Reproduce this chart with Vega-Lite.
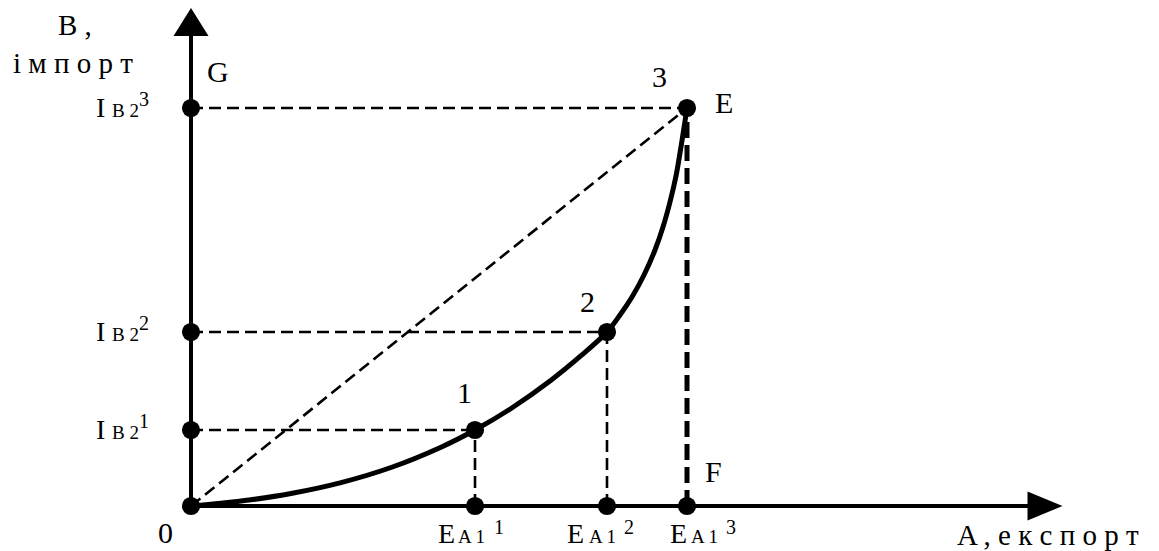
{
  "$schema": "https://vega.github.io/schema/vega-lite/v6.json",
  "width": 1159,
  "height": 551,
  "autosize": {"type": "fit", "contains": "padding"},
  "padding": 0,
  "background": "white",
  "config": {"view": {"stroke": null}, "text": {"font": "Liberation Serif", "color": "black"}},
  "datasets": {
    "dots": [
      {"x": 0, "y": 0}, {"x": 0, "y": 76}, {"x": 0, "y": 174}, {"x": 0, "y": 398},
      {"x": 284, "y": 0}, {"x": 416, "y": 0}, {"x": 496, "y": 0},
      {"x": 284, "y": 76}, {"x": 416, "y": 174}, {"x": 496, "y": 398}
    ],
    "curve": [
      {"ord": 1, "x": 0, "y": 0}, {"ord": 2, "x": 30, "y": 2.7}, {"ord": 3, "x": 60, "y": 6.2},
      {"ord": 4, "x": 100, "y": 12.5}, {"ord": 5, "x": 150, "y": 23.4}, {"ord": 6, "x": 200, "y": 38.5},
      {"ord": 7, "x": 250, "y": 58.8}, {"ord": 8, "x": 284, "y": 76}, {"ord": 9, "x": 320, "y": 97.5},
      {"ord": 10, "x": 360, "y": 125.8}, {"ord": 11, "x": 390, "y": 150.3}, {"ord": 12, "x": 416, "y": 174},
      {"ord": 13, "x": 429, "y": 191}, {"ord": 14, "x": 441, "y": 209}, {"ord": 15, "x": 453, "y": 231},
      {"ord": 16, "x": 464, "y": 256}, {"ord": 17, "x": 472, "y": 279}, {"ord": 18, "x": 479, "y": 304},
      {"ord": 19, "x": 485, "y": 330}, {"ord": 20, "x": 489, "y": 353}, {"ord": 21, "x": 492.5, "y": 375},
      {"ord": 22, "x": 496, "y": 398}
    ],
    "guides": [
      {"x": 0, "y": 398, "x2": 496, "y2": 398},
      {"x": 0, "y": 174, "x2": 416, "y2": 174},
      {"x": 0, "y": 76, "x2": 284, "y2": 76},
      {"x": 284, "y": 0, "x2": 284, "y2": 76},
      {"x": 416, "y": 0, "x2": 416, "y2": 174},
      {"x": 0, "y": 0, "x2": 496, "y2": 398}
    ],
    "heavy": [{"x": 496, "y": 0, "x2": 496, "y2": 398}],
    "axes": [
      {"x": 0, "y": 0, "x2": 0, "y2": 472},
      {"x": 0, "y": 0, "x2": 840, "y2": 0}
    ],
    "arrows": [{"x": 854, "y": 0, "dir": "right"}, {"x": 0, "y": 484, "dir": "up"}],
    "labels": [
      {"role": "axis", "x": -133, "y": 471, "text": "B ,"},
      {"role": "axis", "x": -178, "y": 433, "text": "і м п о р т"},
      {"role": "axis", "x": 766, "y": -39, "text": "A , е к с п о р т"},
      {"role": "main", "x": 16, "y": 424, "text": "G"},
      {"role": "main", "x": 461, "y": 419, "text": "3"},
      {"role": "main", "x": 524, "y": 393, "text": "E"},
      {"role": "main", "x": 389, "y": 194, "text": "2"},
      {"role": "main", "x": 266, "y": 103, "text": "1"},
      {"role": "main", "x": 514, "y": 24, "text": "F"},
      {"role": "main", "x": -33, "y": -37, "text": "0"},
      {"role": "big", "x": -95, "y": 389, "text": "I"},
      {"role": "sub", "x": -79, "y": 389, "text": "B 2"},
      {"role": "sup", "x": -52, "y": 400, "text": "3"},
      {"role": "big", "x": -95, "y": 165, "text": "I"},
      {"role": "sub", "x": -79, "y": 165, "text": "B 2"},
      {"role": "sup", "x": -52, "y": 176, "text": "2"},
      {"role": "big", "x": -95, "y": 67, "text": "I"},
      {"role": "sub", "x": -79, "y": 67, "text": "B 2"},
      {"role": "sup", "x": -52, "y": 78, "text": "1"},
      {"role": "big", "x": 247, "y": -37, "text": "E"},
      {"role": "sub", "x": 267, "y": -37, "text": "A 1"},
      {"role": "sup", "x": 303, "y": -28, "text": "1"},
      {"role": "big", "x": 376, "y": -37, "text": "E"},
      {"role": "sub", "x": 398, "y": -37, "text": "A 1"},
      {"role": "sup", "x": 433, "y": -28, "text": "2"},
      {"role": "big", "x": 479, "y": -37, "text": "E"},
      {"role": "sub", "x": 500, "y": -37, "text": "A 1"},
      {"role": "sup", "x": 535, "y": -28, "text": "3"}
    ]
  },
  "encoding": {
    "x": {"field": "x", "type": "quantitative", "scale": {"domain": [-191, 968], "nice": false, "zero": false}, "axis": null},
    "y": {"field": "y", "type": "quantitative", "scale": {"domain": [-45, 506], "nice": false, "zero": false}, "axis": null}
  },
  "layer": [
    {
      "data": {"name": "guides"},
      "mark": {"type": "rule", "color": "black", "strokeWidth": 2.6, "strokeDash": [12, 6]},
      "encoding": {"x2": {"field": "x2"}, "y2": {"field": "y2"}}
    },
    {
      "data": {"name": "heavy"},
      "mark": {"type": "rule", "color": "black", "strokeWidth": 5, "strokeDash": [16, 7]},
      "encoding": {"x2": {"field": "x2"}, "y2": {"field": "y2"}}
    },
    {
      "data": {"name": "axes"},
      "mark": {"type": "rule", "color": "black", "strokeWidth": 4},
      "encoding": {"x2": {"field": "x2"}, "y2": {"field": "y2"}}
    },
    {
      "data": {"name": "curve"},
      "mark": {"type": "line", "color": "black", "strokeWidth": 5, "interpolate": "catmull-rom", "strokeCap": "round"},
      "encoding": {"order": {"field": "ord", "type": "quantitative"}}
    },
    {
      "data": {"name": "dots"},
      "mark": {"type": "point", "shape": "circle", "filled": true, "color": "black", "opacity": 1, "size": 330},
      "encoding": {}
    },
    {
      "data": {"name": "arrows"},
      "transform": [{"filter": "datum.dir === 'right'"}],
      "mark": {"type": "point", "shape": "M-1,-0.83L1,0L-1,0.83Z", "filled": true, "color": "black", "opacity": 1, "size": 1225},
      "encoding": {}
    },
    {
      "data": {"name": "arrows"},
      "transform": [{"filter": "datum.dir === 'up'"}],
      "mark": {"type": "point", "shape": "M0,-0.8L1,0.8L-1,0.8Z", "filled": true, "color": "black", "opacity": 1, "size": 1225},
      "encoding": {}
    },
    {
      "data": {"name": "labels"},
      "transform": [{"filter": "datum.role === 'axis'"}],
      "mark": {"type": "text", "align": "left", "baseline": "alphabetic", "fontSize": 29},
      "encoding": {"text": {"field": "text"}}
    },
    {
      "data": {"name": "labels"},
      "transform": [{"filter": "datum.role === 'main'"}],
      "mark": {"type": "text", "align": "left", "baseline": "alphabetic", "fontSize": 30},
      "encoding": {"text": {"field": "text"}}
    },
    {
      "data": {"name": "labels"},
      "transform": [{"filter": "datum.role === 'big'"}],
      "mark": {"type": "text", "align": "left", "baseline": "alphabetic", "fontSize": 28},
      "encoding": {"text": {"field": "text"}}
    },
    {
      "data": {"name": "labels"},
      "transform": [{"filter": "datum.role === 'sub'"}],
      "mark": {"type": "text", "align": "left", "baseline": "alphabetic", "fontSize": 19},
      "encoding": {"text": {"field": "text"}}
    },
    {
      "data": {"name": "labels"},
      "transform": [{"filter": "datum.role === 'sup'"}],
      "mark": {"type": "text", "align": "left", "baseline": "alphabetic", "fontSize": 20},
      "encoding": {"text": {"field": "text"}}
    }
  ]
}
